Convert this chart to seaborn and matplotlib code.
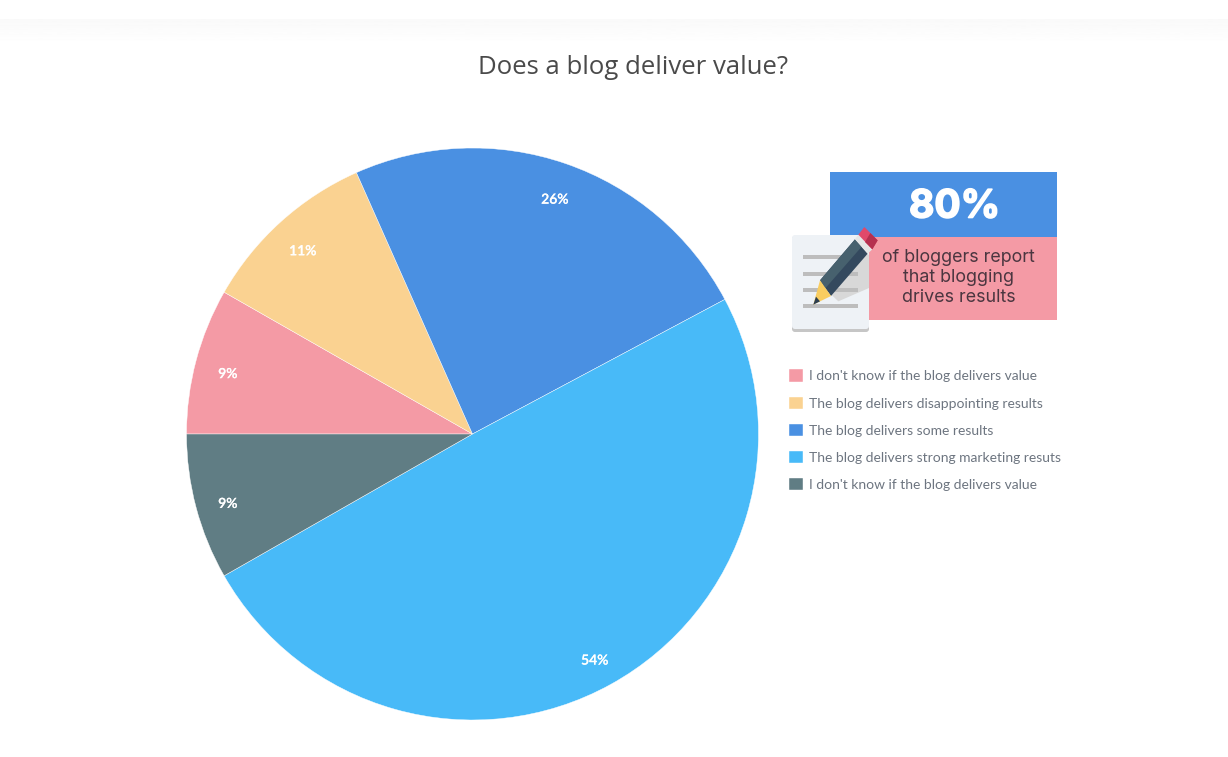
import numpy as np
import matplotlib
matplotlib.use("Agg")
import matplotlib.pyplot as plt
import matplotlib.patheffects as pe
from matplotlib.patches import FancyBboxPatch, Polygon, Rectangle
import seaborn as sns

# Chart data
categories = [
    "I don't know if the blog delivers value",
    "The blog delivers disappointing results",
    "The blog delivers some results",
    "The blog delivers strong marketing resuts",
    "I don't know if the blog delivers value",
]
values = [9, 11, 26, 54, 9]
slice_colors = ["#F49AA5", "#FAD291", "#4A90E2", "#48BAF8", "#607D84"]

title = "Does a blog deliver value?"
callout_big = "80%"
callout_lines = ["of bloggers report", "that blogging", "drives results"]

W, H = 1228, 757

sns.set_theme(style="white")
plt.rcParams["font.family"] = ["Lato", "DejaVu Sans"]

fig = plt.figure(figsize=(W / 100, H / 100), dpi=100, facecolor="white")

# Overlay in pixel coordinates for the band, title and callout graphic
bg = fig.add_axes([0, 0, 1, 1])
bg.axis("off")

# Faint band at the top of the page
band = np.linspace(0.978, 1.0, 30).reshape(-1, 1)
bg.imshow(band, extent=[0, W, 46, 19], cmap="gray", vmin=0, vmax=1, aspect="auto", zorder=0)
bg.set_xlim(0, W)
bg.set_ylim(H, 0)

bg.text(633, 67, title, ha="center", va="center", fontsize=18.5, color="#4a4a4a",
        family=["Open Sans", "DejaVu Sans"])

# Pie
cx, cy, r = 472.5, 434, 286
pie_ax = fig.add_axes([(cx - r) / W, 1 - (cy + r) / H, 2 * r / W, 2 * r / H])
total = sum(values)
wedges, _, autotexts = pie_ax.pie(
    values,
    colors=sns.color_palette(slice_colors),
    startangle=180,
    counterclock=False,
    radius=1,
    autopct=lambda p: f"{round(p * total / 100)}%",
    pctdistance=0.885,
    wedgeprops={"edgecolor": "white", "linewidth": 0.3},
    textprops={"color": "white", "fontsize": 10, "fontweight": "semibold"},
)
for t in autotexts:
    x, y = t.get_position()
    t.set_position((x, y - 5 / r))
    t.set_path_effects([pe.withStroke(linewidth=0.15, foreground="white")])
pie_ax.set_xlim(-1, 1)
pie_ax.set_ylim(-1, 1)

# Legend
fig.legend(
    wedges, categories,
    loc="upper left",
    bbox_to_anchor=(789 / W, 1 - 369.5 / H),
    frameon=False,
    fontsize=10,
    handlelength=1,
    handleheight=1,
    handletextpad=0.43,
    labelspacing=1.02,
    borderpad=0,
    borderaxespad=0,
    labelcolor="#6d7580",
)

# Callout graphic
bg.add_patch(Rectangle((830, 172), 227, 65, color="#4A90E2", lw=0, zorder=1))
bg.add_patch(Rectangle((869, 237), 188, 83, color="#F49AA5", lw=0, zorder=1))
bg.text(954.5, 207, callout_big, ha="center", va="center", fontsize=28, fontweight="bold",
        color="white", family=["Inter", "DejaVu Sans"], zorder=2,
        path_effects=[pe.withStroke(linewidth=1.2, foreground="white")])
for y, line in zip([257, 277, 297], callout_lines):
    bg.text(958.5, y, line, ha="center", va="center", fontsize=12.9, color="#4b3640",
            family=["Inter", "DejaVu Sans"], zorder=2)

# Notepad
bg.add_patch(FancyBboxPatch((792, 236), 77, 96, boxstyle="round,pad=0,rounding_size=3",
                            fc="#c6c6c6", ec="none", zorder=3))
bg.add_patch(FancyBboxPatch((792, 235), 77, 94, boxstyle="round,pad=0,rounding_size=3",
                            fc="#EEF2F6", ec="none", zorder=3))


# Pencil, points taken from a 3x crop of the pencil
def zp(points):
    return [(805 + x / 3, 222 + y / 3) for x, y in points]


bg.add_patch(Polygon(zp([(188, 95), (192, 100), (192, 198), (100, 238), (60, 200)]),
                     fc="#d8d8d8", ec="none", zorder=4))
for y in [257, 273.5, 290, 306]:
    bg.add_patch(Rectangle((803, y - 2), 55, 4, color="#bdbdbd", lw=0, zorder=5))
bg.add_patch(Polygon(zp([(150, 52), (188, 95), (78, 222), (45, 175)]),
                     fc="#34495e", ec="none", zorder=6))
bg.add_patch(Polygon(zp([(150, 52), (170, 74), (60, 200), (45, 175)]),
                     fc="#47616e", ec="none", zorder=6))
bg.add_patch(Polygon(zp([(45, 175), (78, 222), (25, 248)]),
                     fc="#F9CD60", ec="none", zorder=6))
bg.add_patch(Polygon(zp([(33, 224), (45, 238), (25, 248)]),
                     fc="#2c3e50", ec="none", zorder=7))
bg.add_patch(Polygon(zp([(160, 38), (202, 82), (188, 95), (150, 52)]),
                     fc="#e6e6e6", ec="none", zorder=6))
bg.add_patch(Polygon(zp([(160, 38), (178, 15), (218, 55), (202, 82)]),
                     fc="#E0496A", ec="none", zorder=6))
bg.add_patch(Polygon(zp([(196, 33), (218, 55), (202, 82), (180, 60)]),
                     fc="#B5304F", ec="none", zorder=7))

fig.savefig("out.png", dpi=100, facecolor="white")
